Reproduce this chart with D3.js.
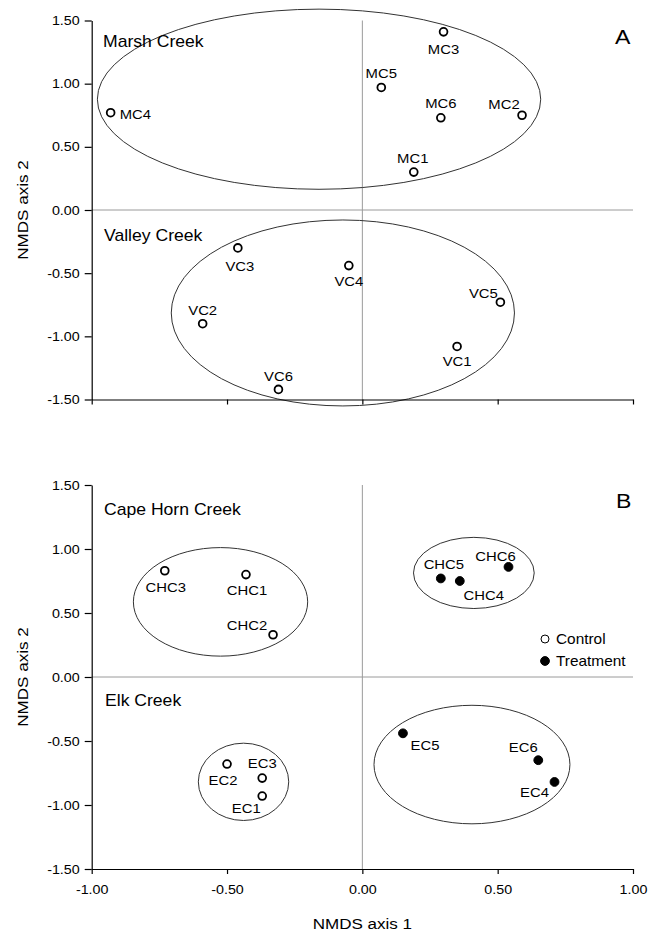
<!DOCTYPE html>
<html><head><meta charset="utf-8">
<script src="https://cdn.jsdelivr.net/npm/d3@7"></script>
<style>
body{margin:0;background:#fff}
svg text{font-family:"Liberation Sans",Arial,Helvetica,sans-serif;fill:#000}
</style></head>
<body><svg id="c" width="657" height="930"></svg>
<script>
// ---------- DATA ----------
const xTicks = [-1, -0.5, 0, 0.5, 1];
const yTicks = [-1.5, -1, -0.5, 0, 0.5, 1, 1.5];

// Panel A
const sitesA = ["MC1","MC2","MC3","MC4","MC5","MC6","VC1","VC2","VC3","VC4","VC5","VC6"];
const axis1A = [0.19, 0.59, 0.30, -0.93, 0.07, 0.29, 0.35, -0.59, -0.46, -0.05, 0.51, -0.31];
const axis2A = [0.30, 0.75, 1.41, 0.77, 0.97, 0.73, -1.08, -0.90, -0.30, -0.44, -0.73, -1.42];
const treatA = ["Control","Control","Control","Control","Control","Control","Control","Control","Control","Control","Control","Control"];
const ellNamesA = ["Marsh Creek", "Valley Creek"];
const ellCxA = [-0.16, -0.072];
const ellCyA = [0.877, -0.815];
const ellRxA = [0.819, 0.634];
const ellRyA = [0.713, 0.736];

// Panel B
const sitesB = ["CHC1","CHC2","CHC3","CHC4","CHC5","CHC6","EC1","EC2","EC3","EC4","EC5","EC6"];
const axis1B = [-0.43, -0.33, -0.73, 0.36, 0.29, 0.54, -0.37, -0.50, -0.37, 0.71, 0.15, 0.65];
const axis2B = [0.80, 0.33, 0.83, 0.75, 0.77, 0.86, -0.93, -0.68, -0.79, -0.82, -0.44, -0.65];
const treatB = ["Control","Control","Control","Treatment","Treatment","Treatment","Control","Control","Control","Treatment","Treatment","Treatment"];
const ellNamesB = ["Cape Horn Creek control", "Cape Horn Creek treatment", "Elk Creek control", "Elk Creek treatment"];
const ellCxB = [-0.524, 0.412, -0.439, 0.405];
const ellCyB = [0.587, 0.813, -0.819, -0.684];
const ellRxB = [0.322, 0.223, 0.167, 0.362];
const ellRyB = [0.424, 0.278, 0.302, 0.463];

const legendItems = ["Control", "Treatment"];
const axisTitleX = "NMDS axis 1";
const axisTitleY = "NMDS axis 2";

// ---------- LAYOUT (label offsets in px: dx, dy, anchor) ----------
const labelPos = {
  MC1:[-1,-14,"middle"], MC2:[-18,-11,"middle"], MC3:[0,17,"middle"], MC4:[9,2,"start"],
  MC5:[0,-14,"middle"], MC6:[0,-15,"middle"],
  VC1:[0,15,"middle"], VC2:[0,-13,"middle"], VC3:[2,18,"middle"], VC4:[0,16,"middle"],
  VC5:[-17,-9,"middle"], VC6:[0,-13,"middle"],
  CHC1:[1,16,"middle"], CHC2:[-26,-9,"middle"], CHC3:[1,17,"middle"], CHC4:[24,14,"middle"],
  CHC5:[3,-14,"middle"], CHC6:[-13,-11,"middle"],
  EC1:[-16,12,"middle"], EC2:[-4,16,"middle"], EC3:[0,-15,"middle"], EC4:[-20,10,"middle"],
  EC5:[22,12,"middle"], EC6:[-15,-13,"middle"]
};
const SX = 1.1; // horizontal text stretch of the reference

const svg = d3.select("#c");
const x = d3.scaleLinear().domain([-1, 1]).range([91.7, 633]);
const fmt = d => d.toFixed(2);

function stretchText(sel, x0, y0, extra) {
  sel.attr("transform", `translate(${x0},${y0}) ${extra || ""} scale(${SX},1)`);
}

function drawPanel(y, sites, a1, a2, treat, cx, cy, rx, ry, showXLabels) {
  const g = svg.append("g");
  // reference lines
  g.append("line").attr("x1", x(-1)).attr("x2", x(1)).attr("y1", y(0)).attr("y2", y(0))
    .attr("stroke", "#9a9a9a").attr("stroke-width", 1);
  g.append("line").attr("x1", x(0)).attr("x2", x(0)).attr("y1", y(1.5)).attr("y2", y(-1.5))
    .attr("stroke", "#9a9a9a").attr("stroke-width", 1);
  // ellipses
  g.selectAll("ellipse.grp").data(cx.map((d, i) => i)).join("ellipse")
    .attr("cx", i => x(cx[i])).attr("cy", i => y(cy[i]))
    .attr("rx", i => x(cx[i] + rx[i]) - x(cx[i]))
    .attr("ry", i => y(cy[i] - ry[i]) - y(cy[i]))
    .attr("fill", "none").attr("stroke", "#333").attr("stroke-width", 1);
  // axes
  const ga = g.append("g").attr("transform", `translate(${x(-1)},0)`)
    .call(d3.axisLeft(y).tickValues(yTicks).tickFormat(fmt).tickSize(7).tickPadding(5).tickSizeOuter(0));
  const gb = g.append("g").attr("transform", `translate(0,${y(-1.5)})`)
    .call(d3.axisBottom(x).tickValues(xTicks).tickFormat(showXLabels ? fmt : () => "").tickSize(5).tickPadding(11).tickSizeOuter(0));
  [ga, gb].forEach(ax => {
    ax.attr("font-size", 13).attr("font-family", null);
    ax.selectAll("path,line").attr("stroke", "#000").attr("stroke-width", 1.2);
    ax.selectAll("text").attr("fill", "#000");
  });
  ga.selectAll("text").each(function () {
    const t = d3.select(this);
    t.attr("x", +t.attr("x") / SX).attr("transform", `scale(${SX},1)`);
  });
  gb.selectAll("text").attr("transform", `scale(${SX},1)`);
  // points
  const idx = sites.map((d, i) => i);
  g.selectAll("circle.pt").data(idx).join("circle")
    .attr("cx", i => x(a1[i])).attr("cy", i => y(a2[i]))
    .attr("r", i => treat[i] === "Control" ? 3.9 : 4.4)
    .attr("fill", i => treat[i] === "Control" ? "#fff" : "#000")
    .attr("stroke", "#000").attr("stroke-width", i => treat[i] === "Control" ? 1.8 : 1);
  // labels
  g.selectAll("text.lab").data(idx).join("text")
    .attr("font-size", 13.5)
    .attr("text-anchor", i => labelPos[sites[i]][2])
    .attr("dy", "0.35em")
    .attr("transform", i => `translate(${x(a1[i]) + labelPos[sites[i]][0]},${y(a2[i]) + labelPos[sites[i]][1]}) scale(${SX},1)`)
    .text(i => sites[i]);
  // y axis title
  const yt = g.append("text").attr("font-size", 15.5).attr("text-anchor", "middle").text(axisTitleY);
  stretchText(yt, 28, y(0), "rotate(-90)");
  return g;
}

// panel A
const yA = d3.scaleLinear().domain([-1.5, 1.5]).range([399.5, 20.5]);
const gA = drawPanel(yA, sitesA, axis1A, axis2A, treatA, ellCxA, ellCyA, ellRxA, ellRyA, false);
// panel B
const yB = d3.scaleLinear().domain([-1.5, 1.5]).range([869, 485]);
const gB = drawPanel(yB, sitesB, axis1B, axis2B, treatB, ellCxB, ellCyB, ellRxB, ellRyB, true);

// group labels
function groupLabel(txt, px, py, size) {
  const t = svg.append("text").attr("font-size", size).text(txt);
  stretchText(t, px, py);
  return t;
}
groupLabel("Marsh Creek", 103, 46.5, 16);
groupLabel("Valley Creek", 104, 240.5, 16);
groupLabel("Cape Horn Creek", 104, 515, 16);
groupLabel("Elk Creek", 105, 705.5, 16);
groupLabel("A", 615, 43.5, 21);
groupLabel("B", 616, 508, 21);

// legend
const lg = svg.append("g");
legendItems.forEach((name, i) => {
  const cyL = 639 + i * 22;
  lg.append("circle").attr("cx", 545).attr("cy", cyL).attr("r", name === "Control" ? 4 : 4.4)
    .attr("fill", name === "Control" ? "#fff" : "#000").attr("stroke", "#000").attr("stroke-width", 1);
  const t = lg.append("text").attr("font-size", 14).attr("dy", "0.35em").text(name);
  stretchText(t, 556, cyL);
});

// x axis title
const xt = svg.append("text").attr("font-size", 15.5).attr("text-anchor", "middle").text(axisTitleX);
stretchText(xt, x(0), 928.5);
</script>
</body></html>
